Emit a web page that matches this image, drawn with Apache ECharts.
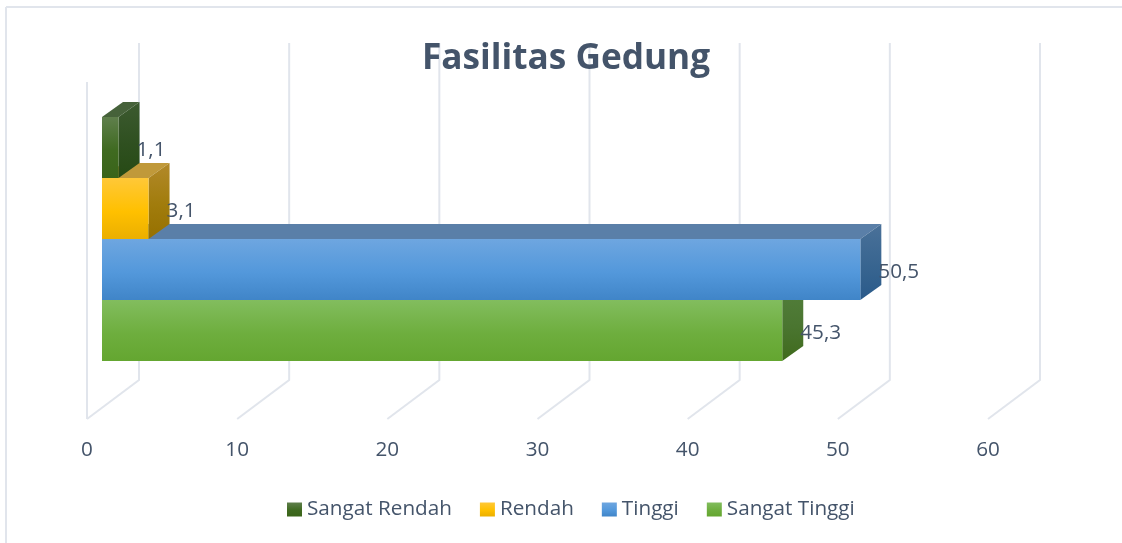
<!DOCTYPE html>
<html>
<head>
<meta charset="utf-8">
<style>html,body{margin:0;padding:0;background:#fff}#c{width:1122px;height:543px}</style>
<script src="https://cdn.jsdelivr.net/npm/echarts@6/dist/echarts.min.js"></script>
</head>
<body>
<div id="c"></div>
<script>
var titleText = 'Fasilitas Gedung';
var seriesNames = ['Sangat Rendah', 'Rendah', 'Tinggi', 'Sangat Tinggi'];
var seriesValues = [1.1, 3.1, 50.5, 45.3];
var tickValues = [0, 10, 20, 30, 40, 50, 60];

var FONT = '"Open Sans", sans-serif';
var INK = '#44546A';
var GRIDC = '#E1E5EC';
function grad(a, b, c) {
  return {type:'linear', x:0, y:0, x2:0, y2:1, colorStops:[{offset:0,color:a},{offset:.55,color:b},{offset:1,color:c}]};
}
var faces = [
  {front:grad('#5F7F4C','#3F6A20','#3A6419'), side:grad('#3C5A30','#2F5020','#264A14'), top:'#46623A'},
  {front:grad('#FFC838','#FFC000','#EBAF00'), side:grad('#B2892A','#A17C0C','#967000'), top:'#C0993A'},
  {front:grad('#6EA6E0','#5398DB','#4085C8'), side:grad('#4A7199','#386590','#2A5A8A'), top:'#5A7FA8'},
  {front:grad('#82BD5E','#6EAE3E','#64A630'), side:grad('#537F3C','#4A7530','#3F6A1C'), top:'#55803F'}
];

function renderGridLine(params, api) {
  var v = api.value(0);
  var f = api.coord([v, 0]);
  var t = api.coord([v, 1]);
  var dx = 52, dy = -39;
  var pts = [[f[0], f[1]], [f[0]+dx, f[1]+dy], [t[0]+dx, t[1]+dy]];
  var children = [{type:'polyline', shape:{points:pts}, style:{fill:null, stroke:GRIDC, lineWidth:2}}];
  if (v === tickValues[0]) {
    children.push({type:'line', shape:{x1:f[0], y1:f[1], x2:t[0], y2:t[1]}, style:{stroke:GRIDC, lineWidth:2}});
  }
  return {type:'group', children:children};
}

function renderBar(face) {
  return function (params, api) {
    var v = api.value(0), i = api.value(1);
    var end = api.coord([v, i]);
    var base = api.coord([0, i]);
    var h = api.size([0, 1])[1];
    var x0 = base[0], x1 = end[0], y0 = end[1] - h/2, y1 = end[1] + h/2;
    var dx = 21, dy = -15;
    return {type:'group', children:[
      {type:'polygon', shape:{points:[[x0,y0],[x0+dx,y0+dy],[x1+dx,y0+dy],[x1,y0]]}, style:{fill:face.top}},
      {type:'polygon', shape:{points:[[x1,y0],[x1+dx,y0+dy],[x1+dx,y1+dy],[x1,y1]]}, style:{fill:face.side}},
      {type:'rect', shape:{x:x0, y:y0, width:x1-x0, height:y1-y0}, style:{fill:face.front}},
      {type:'text', style:{x:x1+18, y:end[1]+3, text:String(v).replace('.', ','), fill:INK, font:'20.7px '+FONT, textAlign:'left', textVerticalAlign:'middle'}, z2:10}
    ]};
  };
}

var series = [{
  type:'custom', xAxisIndex:0, yAxisIndex:0, z:1, silent:true, clip:false,
  data:tickValues.map(function(t){return [t];}),
  encode:{x:0}, renderItem:renderGridLine
}];
seriesNames.forEach(function (n, i) {
  series.push({
    type:'custom', name:n, xAxisIndex:1, yAxisIndex:1, z:10 - i, clip:false,
    itemStyle:{color:faces[i].front},
    data:[[seriesValues[i], i]], encode:{x:0, y:1},
    renderItem:renderBar(faces[i])
  });
});

var chart = echarts.init(document.getElementById('c'), null, {renderer:'canvas'});
chart.setOption({
  animation:false,
  backgroundColor:'#fff',
  title:{text:titleText, top:41, padding:0, itemGap:0, z:20,
    left:422, textStyle:{fontFamily:FONT, fontWeight:'bold', fontSize:35.2, color:INK}},
  legend:{left:287, top:499, itemWidth:15, itemHeight:14, itemGap:28, icon:'rect', padding:0,
    selectedMode:false, data:seriesNames,
    textStyle:{fontFamily:FONT, fontSize:20.7, color:INK}},
  graphic:[
    {type:'line', silent:true, shape:{x1:6, y1:7, x2:1122, y2:7}, style:{stroke:GRIDC, lineWidth:2}},
    {type:'line', silent:true, shape:{x1:6, y1:7, x2:6, y2:543}, style:{stroke:GRIDC, lineWidth:2}}
  ],
  grid:[
    {left:87, width:901, top:82, height:337},
    {left:102, width:901, top:117, height:244}
  ],
  xAxis:[
    {gridIndex:0, type:'value', min:0, max:60, interval:10,
      axisLine:{show:false}, axisTick:{show:false}, splitLine:{show:false},
      axisLabel:{margin:21, fontFamily:FONT, fontSize:20.7, color:INK}},
    {gridIndex:1, type:'value', min:0, max:60, show:false}
  ],
  yAxis:[
    {gridIndex:0, type:'value', min:0, max:1, show:false},
    {gridIndex:1, type:'category', inverse:true, show:false, data:seriesNames}
  ],
  series:series
});
</script>
</body>
</html>
